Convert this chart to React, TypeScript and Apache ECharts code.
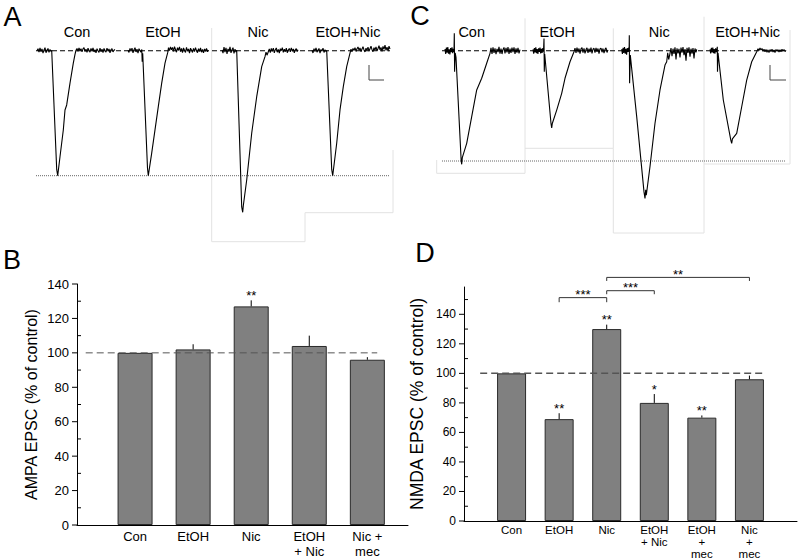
import React, { useEffect, useRef } from 'react';
import * as echarts from 'echarts';

const FONT = '"Liberation Sans", Arial, Helvetica, sans-serif';

// ---------- Panels A / C : example EPSC sweeps ----------
// [time (ms from sweep start), current (% of control peak, baseline = 0)]
const sweepLabels = ['Con', 'EtOH', 'Nic', 'EtOH+Nic'];

const ampaSweepCon = [[0,0],[1,1.6],[2,-1.2],[3,2.2],[4,-0.8],[5,1.4],[6,-2],[7,0.6],[8,2.4],[9,-1.6],[10,0.6],[11,1.8],[12,-1.4],[13,1],[14,-0.6],[14.7,0.4],[19.7,-95],[20.7,-100],[23,-84.8],[26.3,-63.4],[28,-47.4],[29.7,-43.4],[33,-26],[36.3,-10],[38,-3],[39,0.4],[40,1.8],[41,-0.6],[42,2.2],[43,0.2],[44,1.6],[45,-1],[46,1.4],[47,2.4],[48,-0.6],[49,1.2],[50,-1.4],[51,2],[52,0.4],[53,-1.2],[54,1.8],[55,-0.4],[56,2.2],[57,-1],[58,0.8],[59,-1.8],[60,1.6],[61,0],[62,-1.4],[63,2],[64,-0.8],[65,1.2],[66,-1.6],[67,1.8],[68,0.2],[69,-1.2],[70,2],[71,-0.4],[72,1.4],[73,-1.8],[74,0.8],[75,1.6],[76,-1],[77,0.4],[78,1]];
const ampaSweepEtOH = [[0,0.4],[1,-1.4],[2,1.8],[3,-0.6],[4,2],[5,-1.8],[6,0.8],[7,2.4],[8,-1],[9,1.2],[10,-2],[11,1.6],[12,0],[13,-1.2],[13.8,1],[14.2,-8.8],[14.7,-2],[19.5,-94],[20.3,-100],[23.7,-82],[27,-63.4],[30.3,-44.8],[33.7,-26],[37,-10],[39.7,-1.6],[40.5,2.4],[41.5,0],[42.5,3],[43.5,0.8],[44.5,2.6],[45.5,-0.6],[46.5,3.2],[47.5,1],[48.5,-1.2],[49.5,2.4],[50.5,0.2],[51.5,3],[52.5,-0.8],[53.5,1.8],[54.5,-1.6],[55.5,2.2],[56.5,0.4],[57.5,-1.4],[58.5,2.6],[59.5,-0.4],[60.5,1.4],[61.5,-2],[62.5,2],[63.5,0.6],[64.5,-1.4],[65.5,1.8],[66.5,-0.8],[67.5,2.4],[68.5,0],[69.5,-1.6],[70.5,1.6],[71.5,-0.6],[72.5,2.2],[73.5,-1.2],[74.5,1],[75.5,-1.8],[76.5,1.4],[77.5,-0.4],[78.5,1.8],[79.5,-1],[80,0.6]];
const ampaSweepNic = [[0,0.6],[1,-2],[2,2.8],[3,-1.2],[4,2.2],[5,-2.6],[6,1.4],[7,-0.6],[8,3],[9,-1.8],[10,0.8],[11,2.4],[12,-2.2],[13,1.2],[14,-1],[14.7,0.4],[19.7,-125],[20.7,-129.3],[21.3,-124],[24.7,-103.4],[29.7,-66],[34.7,-36.8],[39.7,-12.8],[43,-4.8],[44,-1.2],[45,-3.6],[46.3,-0.8],[47.3,1.4],[48.3,-1.6],[49.3,1.8],[50.3,-0.6],[51.3,2],[52.3,-1.8],[53.3,0.8],[54.3,2.2],[55.3,-1.2],[56.3,1],[57.3,-2],[58.3,1.6],[59.3,0],[60.3,2.4],[61.3,-1.4],[62.3,1.2],[63.3,-0.8],[64.3,2],[65.3,-1.6],[66.3,0.6],[67.3,1.8],[68.3,-1],[69.3,2.2],[70.3,-0.4],[71.3,1.4],[72.3,-1.8],[73.3,0.8],[74.3,1.6],[75.3,-0.6],[76,0.8]];
const ampaSweepEtOHNic = [[0,0.4],[1,-1.8],[2,1.6],[3,-0.8],[4,2.2],[5,-1.2],[6,0.6],[7,1.8],[8,-2],[9,1],[10,-0.4],[11,2],[12,-1.4],[13,0.8],[14,-0.6],[14.7,0.2],[19.7,-95],[20.7,-100],[24.7,-74],[28,-47.4],[31.3,-28.8],[34.7,-12.8],[38,-2],[39,1.2],[40,-0.8],[41,1.8],[42,0.2],[43,2.4],[44,-0.6],[45,1.6],[46,3],[47,0.4],[48,2.2],[49,-0.8],[50,1.4],[51,3.2],[52,0.6],[53,-1],[54,2],[55,0.2],[56,2.8],[57,-0.4],[58,1.6],[59,3.6],[60,0.8],[61,-0.8],[62,2.4],[63,0.4],[64,3],[65,-0.2],[66,1.8],[67,4],[68,0.6],[69,2.6],[70,-0.6],[71,3.4],[72,1],[73,4.4],[74,0.2],[75,2.8],[76,-0.4],[77,3.6],[78,1.2]];

const nmdaSweepCon = [[0,1.5],[0.7,-3],[1.4,2.8],[2.1,-1.8],[2.8,3.2],[3.5,-2.6],[4.2,1.2],[4.9,-3.4],[5.6,2.4],[6.3,-1.4],[7,3],[7.7,-2.2],[8.4,1.8],[9,-1],[9.3,15.8],[9.6,-19],[10.2,-2],[11,-6],[16.2,-100],[16.7,-103],[17.3,-97],[21.7,-84],[26.7,-59.8],[31.7,-35.6],[36.7,-25],[41.7,-11.4],[45,-2.4],[46,2.6],[47,-2.8],[48,3],[49,-2],[50,2.2],[51,-3.2],[52,1.6],[53,-1.2],[54,3.4],[55,-2.6],[56,2],[57,-3],[58,1.2],[59,3],[60,-2.4],[61,2.6],[62,-1.6],[63,3.2],[64,-3],[65,1.8],[66,-2],[67,2.8],[68,-1.4],[69,3],[70,-2.8],[71,2.2],[72,-1.8],[73,2.6],[74,-2.4],[75,1]];
const nmdaSweepEtOH = [[0,1.2],[0.7,-2.6],[1.4,2.4],[2.1,-1.6],[2.8,3],[3.5,-2.2],[4.2,1.4],[4.9,-3],[5.6,2.2],[6.3,-1],[7,2.8],[7.7,-2.4],[8.4,1.6],[9.1,-2],[9.8,2.4],[10.5,-0.8],[11,11],[11.3,-19],[11.7,-3],[18,-66],[18.7,-70],[19.3,-66],[23.7,-53.8],[28.7,-38.6],[32,-25],[37,-10],[41,-0.9],[42,2.4],[43,-2],[44,2.8],[45,-1.4],[46,2],[47,-2.6],[48,1.6],[49,2.8],[50,-1.8],[51,2.2],[52,-2.4],[53,1],[54,2.6],[55,-2],[56,1.8],[57,-1.2],[58,2.8],[59,-2.4],[60,1.4],[61,2.2],[62,-1.8],[63,2.6],[64,-1],[65,2],[66,-2.6],[67,1.6],[68,2.4],[69,-1.4],[70,2],[71,-2.2],[72,1.2],[73,2.6],[74,-1.6],[75,0.8]];
const nmdaSweepNic = [[0,1.4],[0.7,-3],[1.4,2.6],[2.1,-2],[2.8,3.2],[3.5,-2.8],[4.2,1.6],[4.9,-3.6],[5.6,2.4],[6.3,-1.2],[7,2.8],[7.4,-1],[7.6,14],[7.9,-29.6],[8.6,-4],[15,-59.8],[22.3,-128],[23.3,-134],[24,-126],[24.6,-131],[28.3,-105],[33.3,-65.8],[38.3,-35.6],[43.3,-13],[45,-10],[46,-2],[47,-8],[48.3,-2.4],[49.3,2.4],[50.3,-5],[51.3,1.8],[52.3,-3],[53.3,3],[54.3,-8],[55.3,2.2],[56.3,-2.4],[57.3,1.6],[58.3,-6],[59.3,2.8],[60.3,-1.8],[61.3,3.2],[62.3,-4],[63.3,1.4],[64.3,-9],[65.3,2.6],[66.3,-2],[67.3,3],[68.3,-5.4],[69.3,1.8],[70.3,-2.6],[71.3,2.4],[72.3,-7],[73.3,2],[74.3,-1.6],[75,1.2]];
const nmdaSweepEtOHNic = [[0,1.2],[0.7,-2.4],[1.4,2.6],[2.1,-1.6],[2.8,2.8],[3.5,-2.2],[4.2,1.4],[4.9,-2.8],[5.6,2.2],[6.3,-1.2],[7,2],[7.3,3.6],[7.5,-19],[8,-2],[13.3,-44.7],[20.8,-81],[21.7,-84],[22.4,-80],[26.7,-75],[31.7,-50.8],[36.7,-26.6],[41.7,-10],[46.7,-0.9],[48,1.8],[49,0.2],[50,2.4],[51,0.6],[52,2],[53,-0.4],[54,1.4],[55,-1],[56,1.2],[57,-1.4],[58,0.8],[59,-1.6],[60,1],[61,-0.8],[62,1.4],[63,-1.2],[64,0.6],[65,-1.6],[66,1.2],[67,-0.6],[68,1],[69,-1.2],[70,0.8],[71,-1],[72,1.4],[73,-0.4],[74,1],[75,-0.8],[76,0.4]];

const baselineCurrent = 0;   // dashed line
const controlPeak = -100;    // dotted line

// ---------- Panel B : AMPA ----------
const ampaCategories = ['Con', 'EtOH', 'Nic', 'EtOH\n+ Nic', 'Nic +\nmec'];
const ampaMeans = [100, 102, 127, 104, 96];
const ampaErrors = [0, 3, 3.5, 6, 1.5];
const ampaSig = ['', '', '**', '', ''];
const ampaTicks = [0, 20, 40, 60, 80, 100, 120, 140];
const ampaMinorTicks = [10, 30, 50, 70, 90, 110, 130];

// ---------- Panel D : NMDA ----------
const nmdaCategories = ['Con', 'EtOH', 'Nic', 'EtOH\n+ Nic', 'EtOH\n+\nmec', 'Nic\n+\nmec'];
const nmdaMeans = [100, 69, 130, 80, 70, 96];
const nmdaErrors = [0, 4, 3, 6, 1.5, 2.5];
const nmdaSig = ['', '**', '**', '*', '**', ''];
const nmdaTicks = [0, 20, 40, 60, 80, 100, 120, 140];
const nmdaMinorTicks = [10, 30, 50, 70, 90, 110, 130, 150];
const bracketFrom = [2, 3, 3];
const bracketTo = [3, 4, 6];
const bracketLevel = [151.3, 156, 165];
const bracketEnd = [148.2, 153.6, 162.6];
const bracketLabel = ['***', '***', '**'];

function buildOption() {
  const grid: any[] = [];
  const xAxis: any[] = [];
  const yAxis: any[] = [];
  const series: any[] = [];

  const addHidden = (g: any, xmin: number, xmax: number, ymin: number, ymax: number) => {
    const i = grid.length;
    grid.push({ ...g, outerBoundsMode: 'none', containLabel: false });
    xAxis.push({ gridIndex: i, type: 'value', min: xmin, max: xmax, show: false });
    yAxis.push({ gridIndex: i, type: 'value', min: ymin, max: ymax, show: false });
    return i;
  };

  const traceLine = (i: number, data: number[][], extra: any = {}) => ({
    type: 'line', xAxisIndex: i, yAxisIndex: i, data, showSymbol: false, symbol: 'none',
    clip: false, silent: true, lineStyle: { color: '#000', width: 1.1, ...extra }, z: 3,
  });

  // Panel A sweeps
  const aSweeps = [ampaSweepCon, ampaSweepEtOH, ampaSweepNic, ampaSweepEtOHNic];
  const aLefts = [37, 128, 222, 312];
  aSweeps.forEach((d, k) => {
    const i = addHidden({ left: aLefts[k], top: 25.7, width: 80, height: 200 }, 0, 80, -140, 20);
    series.push(traceLine(i, d));
  });
  // Panel C sweeps
  const cSweeps = [nmdaSweepCon, nmdaSweepEtOH, nmdaSweepNic, nmdaSweepEtOHNic];
  const cLefts = [445, 533, 621.7, 710];
  cSweeps.forEach((d, k) => {
    const i = addHidden({ left: cLefts[k], top: 28.64, width: 80, height: 176.5 }, 0, 80, -140, 20);
    series.push(traceLine(i, d));
  });
  // reference levels
  const refLines = (i: number) => {
    series.push({ ...traceLine(i, [[0, baselineCurrent], [1, baselineCurrent]], { type: [5, 3], width: 1.1 }), z: 4 });
    series.push({ ...traceLine(i, [[0, controlPeak], [1, controlPeak]], { type: [1, 1], width: 1, color: '#666' }), z: 2 });
  };
  refLines(addHidden({ left: 36, top: 25.7, width: 354, height: 200 }, 0, 1, -140, 20));
  refLines(addHidden({ left: 442, top: 28.64, width: 344, height: 176.5 }, 0, 1, -140, 20));

  // Bar panels
  const axisText = { color: '#000', fontFamily: FONT };
  const barPanel = (g: any, xmax: number, ymax: number, cats: string[], means: number[], errs: number[], sig: string[],
    ticks: number[], minors: number[], name: string, o: any) => {
    const i = grid.length;
    grid.push({ ...g, outerBoundsMode: 'none', containLabel: false });
    xAxis.push({
      gridIndex: i, type: 'value', min: 0, max: xmax, interval: 1,
      axisLine: { lineStyle: { color: '#000', width: 1 } }, axisTick: { show: false }, splitLine: { show: false },
      axisLabel: {
        ...axisText, fontSize: o.catSize, lineHeight: o.catLine, margin: o.catMargin, showMinLabel: true, showMaxLabel: true,
        formatter: (v: number) => {
          const r = Math.round(v);
          return Math.abs(v - r) < 1e-6 && r >= 1 && r <= cats.length ? cats[r - 1] : '';
        },
      },
    });
    yAxis.push({
      gridIndex: i, type: 'value', min: 0, max: ymax, interval: 20,
      axisLine: { show: true, lineStyle: { color: '#000', width: 1 } }, axisTick: { show: false }, splitLine: { show: false },
      axisLabel: { ...axisText, fontSize: o.tickSize, margin: 8, formatter: (v: number) => (ticks.includes(v) ? String(v) : '') },
      name, nameLocation: 'middle', nameGap: o.nameGap,
      nameTextStyle: { ...axisText, fontSize: o.nameSize },
    });
    series.push({
      type: 'bar', xAxisIndex: i, yAxisIndex: i, data: means.map((m, k) => [k + 1, m]), barWidth: o.barWidth,
      itemStyle: { color: '#808080', borderColor: '#2a2a2a', borderWidth: 1 }, silent: true, z: 2,
    });
    series.push({
      type: 'line', xAxisIndex: i, yAxisIndex: i, data: o.refSpan.map((x: number) => [x, 100]), showSymbol: false, symbol: 'none',
      silent: true, lineStyle: { color: '#555', width: o.refWidth, type: [7, 4] }, z: 4,
    });
    series.push({
      type: 'custom', xAxisIndex: i, yAxisIndex: i, silent: true, z: 5,
      data: means.map((m, k) => [k + 1, m, errs[k]]),
      renderItem: (params: any, api: any) => {
        const x = api.value(0), m = api.value(1), e = api.value(2);
        const p1 = api.coord([x, m]);
        const p2 = api.coord([x, m + e]);
        const children: any[] = [];
        if (e > 0) children.push({ type: 'line', shape: { x1: p1[0], y1: p1[1], x2: p2[0], y2: p2[1] }, style: { stroke: '#000', lineWidth: 1 } });
        const s = sig[params.dataIndex];
        if (s) children.push({
          type: 'text', x: p2[0], y: p2[1] - 5,
          style: { text: s, fill: '#000', font: `13px ${FONT}`, align: 'center', verticalAlign: 'middle', textAlign: 'center', textVerticalAlign: 'middle' },
        });
        return { type: 'group', children };
      },
    });
    series.push({
      type: 'custom', xAxisIndex: i, yAxisIndex: i, silent: true, z: 5,
      data: [...ticks.map((t) => [0, t, 1]), ...minors.map((t) => [0, t, 0])],
      renderItem: (params: any, api: any) => {
        const p = api.coord([0, api.value(1)]);
        const major = api.value(2) === 1;
        return {
          type: 'line',
          shape: major ? { x1: p[0] - 5, y1: p[1], x2: p[0], y2: p[1] } : { x1: p[0], y1: p[1], x2: p[0] + 4, y2: p[1] },
          style: { stroke: '#000', lineWidth: 1 },
        };
      },
    });
    return i;
  };

  barPanel({ left: 77, top: 284, width: 331, height: 241 }, 5.7, 140, ampaCategories, ampaMeans, ampaErrors, ampaSig,
    ampaTicks, ampaMinorTicks, 'AMPA EPSC (% of control)',
    { catSize: 13, catLine: 14.5, catMargin: 4.5, tickSize: 13, nameGap: 38, nameSize: 16, barWidth: 35, refSpan: [0.15, 5.17], refWidth: 1 });

  const d = barPanel({ left: 464, top: 287, width: 333, height: 234 }, 7, 158.5, nmdaCategories, nmdaMeans, nmdaErrors, nmdaSig,
    nmdaTicks, nmdaMinorTicks, 'NMDA EPSC (% of control)',
    { catSize: 11.5, catLine: 12, catMargin: 2.5, tickSize: 12, nameGap: 38, nameSize: 17.5, barWidth: 29, refSpan: [0.34, 6.33], refWidth: 1.5 });

  series.push({
    type: 'custom', xAxisIndex: d, yAxisIndex: d, silent: true, z: 6, clip: false,
    data: bracketFrom.map((f, k) => [f, bracketTo[k], bracketLevel[k], bracketEnd[k]]),
    renderItem: (params: any, api: any) => {
      const f = api.value(0), t = api.value(1), lv = api.value(2), en = api.value(3);
      const a = api.coord([f, lv]), b = api.coord([t, lv]);
      const ae = api.coord([f, en]), be = api.coord([t, en]);
      return {
        type: 'group',
        children: [
          { type: 'polyline', shape: { points: [[a[0], ae[1]], a, b, [b[0], be[1]]] }, style: { stroke: '#333', lineWidth: 1, fill: null } },
          {
            type: 'text', x: (a[0] + b[0]) / 2, y: a[1] - 3,
            style: { text: bracketLabel[params.dataIndex], fill: '#000', font: `13px ${FONT}`, align: 'center', verticalAlign: 'middle', textAlign: 'center', textVerticalAlign: 'middle' },
          },
        ],
      };
    },
  });

  // decorations: panel letters, sweep labels, image frames, scale bars
  const txt = (x: number, y: number, text: string, size: number) => ({
    type: 'text', x, y, silent: true,
    style: { text, fill: '#000', font: `${size}px ${FONT}`, align: 'center', verticalAlign: 'middle', textAlign: 'center', textVerticalAlign: 'middle' },
  });
  const pl = (points: number[][], stroke: string, z = 0) => ({
    type: 'polyline', silent: true, z, shape: { points }, style: { stroke, lineWidth: 1, fill: null },
  });
  const aLabelX = [77, 163, 258, 348];
  const cLabelX = [471.7, 557.3, 659.3, 747.7];
  const frame = '#e2e2e2';
  const graphic = [
    txt(12.5, 16.5, 'A', 27), txt(12, 259.5, 'B', 27), txt(420, 15.5, 'C', 27), txt(425, 253, 'D', 27),
    ...sweepLabels.map((s, k) => txt(aLabelX[k], 32, s, 14.5)),
    ...sweepLabels.map((s, k) => txt(cLabelX[k], 32.3, s, 14.5)),
    pl([[211.7, 28], [211.7, 241.7], [305, 241.7], [305, 212.7], [393, 212.7], [393, 150]], frame),
    pl([[436.7, 160], [436.7, 173.3], [525, 173.3], [525, 18.3]], frame),
    pl([[525, 148.3], [613.3, 148.3], [613.3, 28.3]], frame),
    pl([[613.3, 148.3], [613.3, 233], [704, 233], [704, 16.7]], frame),
    pl([[704, 164], [790, 164], [790, 30]], frame),
    pl([[369, 65], [369, 80], [384, 80]], '#444', 10),
    pl([[770, 65], [770, 80], [786, 80]], '#444', 10),
  ];

  return {
    animation: false,
    backgroundColor: '#fff',
    textStyle: { fontFamily: FONT },
    grid, xAxis, yAxis, series, graphic,
  };
}

export default function App() {
  const ref = useRef<HTMLDivElement>(null);
  useEffect(() => {
    if (!ref.current) return;
    const chart = echarts.init(ref.current, undefined, { renderer: 'svg' });
    chart.setOption(buildOption() as any);
    return () => chart.dispose();
  }, []);
  return <div ref={ref} style={{ position: 'fixed', left: 0, top: 0, width: 800, height: 559, background: '#fff' }} />;
}
